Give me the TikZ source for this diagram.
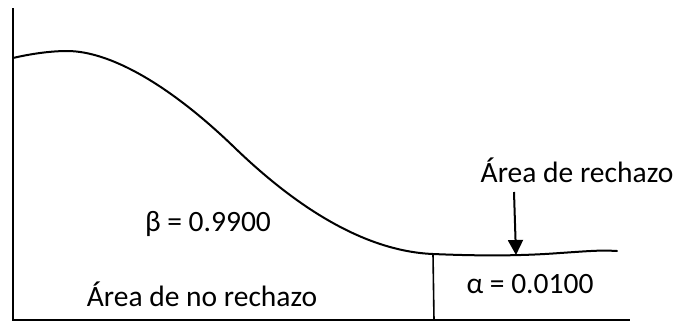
\documentclass[tikz,border=0pt]{standalone}
\usepackage{fontspec}
\setmainfont{Carlito}
\usetikzlibrary{arrows.meta}
\begin{document}
\begin{tikzpicture}[x=1pt,y=-1pt,
  curve/.style={line width=2pt,line cap=round},
  axisline/.style={line width=1.6pt},
  lbl/.style={font=\fontsize{29.5}{34}\selectfont,inner sep=0pt,anchor=center},
  pointer/.style={line width=2pt,-{Triangle[length=15pt,width=15pt]}}]
\useasboundingbox (0,0) rectangle (678,322);
% axes
\coordinate (ytop) at (13,8);
\coordinate (origin) at (13,320);
\coordinate (xend) at (630,320);
\draw[axisline] (ytop) -- (origin) -- (xend);
% curve
\coordinate (c0) at (13,58);
\coordinate (c1) at (67,51);
\coordinate (c2) at (235,148);
\coordinate (crit) at (433,254);
\coordinate (c4) at (560,253);
\coordinate (c5) at (617,251);
\draw[curve] (c0) .. controls (30,54) and (50,51) .. (c1)
  .. controls (110,51) and (170,85) .. (c2)
  .. controls (290,201) and (360,251) .. (crit)
  .. controls (480,256) and (520,256) .. (c4)
  .. controls (590,251) and (600,250) .. (c5);
% critical value line
\coordinate (critbase) at (434,320);
\draw[axisline] (crit) -- (critbase);
% labels
\node[lbl] (rech) at (577,170) {Área de rechazo};
\node[lbl] (beta) at (208,224) {β = 0.9900};
\node[lbl] (norech) at (202,294) {Área de no rechazo};
\node[lbl] (alpha) at (530,284) {α = 0.0100};
% arrow
\coordinate (arrtop) at (514,192);
\coordinate (arrtip) at (516,255);
\draw[pointer] (arrtop) -- (arrtip);
\end{tikzpicture}
\end{document}
